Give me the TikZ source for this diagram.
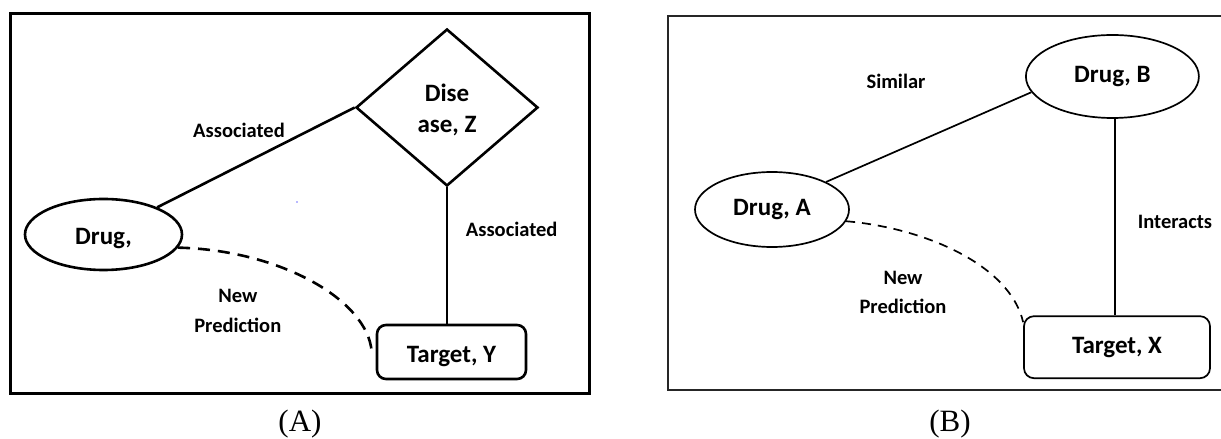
\documentclass[tikz,border=0pt]{standalone}
\usepackage{fontspec}
\newfontfamily\diagfont{Carlito}
\newfontfamily\capfont{Liberation Serif}
\usetikzlibrary{shapes.geometric}

\begin{document}
\begin{tikzpicture}[x=1bp,y=-1bp,
  nodetext/.style={font=\diagfont\bfseries\fontsize{25bp}{31.3bp}\selectfont, inner sep=0pt},
  edgelabel/.style={font=\diagfont\bfseries\fontsize{20.5bp}{25bp}\selectfont, inner sep=0pt, anchor=base},
  caption/.style={font=\capfont\fontsize{31bp}{36bp}\selectfont, inner sep=0pt, anchor=base},
  heavy/.style={line width=2.6bp, black},
  light/.style={line width=1.7bp, black},
  textA/.style={text height=26bp, text depth=5bp},
  textB/.style={text height=17.5bp, text depth=5bp},
  dashA/.style={dash pattern=on 12bp off 8bp},
  dashB/.style={dash pattern=on 9bp off 7bp},
]
\useasboundingbox[fill=white] (0,0) rectangle (1221,439);

% ---------------- Panel (A) ----------------
\draw[line width=3bp] (10.5,14) rectangle (589.5,393.5);

\node[ellipse, draw, heavy, nodetext, textA, minimum width=157bp, minimum height=71bp]
  (drug) at (103.5,234.5) {Drug,};
\node[diamond, draw, heavy, nodetext, align=center, minimum width=182bp, minimum height=157bp]
  (dis) at (447,107.5) {\rule{0pt}{23bp}Dise\\ase, Z};
\node[rectangle, rounded corners=9bp, draw, heavy, nodetext, textA, minimum width=149bp, minimum height=54bp]
  (tgtY) at (451.5,352) {Target, Y};

\draw[heavy] (drug) -- (dis.west);
\draw[heavy] (dis.south) -- (dis.south |- tgtY.north);
\draw[heavy, dashA] (drug.-10) .. controls (280,250) and (368,300) .. ([xshift=-4bp]tgtY.west);

\node[edgelabel] (lab1) at (239,138) {Associated};
\node[edgelabel] (lab2) at (511.7,236.7) {Associated};
\node[edgelabel] (lab3) at (237.8,303) {New};
\node[edgelabel] (lab4) at (237.8,333) {Prediction};

\fill[blue!55] (297,202) circle (0.9bp);

\node[caption] (capA) at (300,432) {(A)};

% ---------------- Panel (B) ----------------
\draw[line width=2bp, black!85] (1222,16) -- (668,16) -- (668,390.5) -- (1222,390.5);

\node[ellipse, draw, light, nodetext, textB, minimum width=154bp, minimum height=75bp]
  (drugA) at (772,209.5) {Drug, A};
\node[ellipse, draw, light, nodetext, textB, minimum width=173bp, minimum height=83bp]
  (drugB) at (1112.4,76.5) {Drug, B};
\node[rectangle, rounded corners=10bp, draw, light, nodetext, textB, minimum width=186bp, minimum height=62bp]
  (tgtX) at (1117,347.2) {Target, X};

\draw[light] (drugA.27) -- (drugB.191);
\draw[light] ([xshift=2.6bp]drugB.south) -- ([xshift=2.6bp]drugB.south |- tgtX.north);
\draw[light, dashB] (drugA.-9) .. controls (925,228) and (1010,265) .. ([yshift=25bp]tgtX.west);

\node[edgelabel] (lab5) at (896,88.3) {Similar};
\node[edgelabel] (lab6) at (1175,228.3) {Interacts};
\node[edgelabel] (lab7) at (903,285) {New};
\node[edgelabel] (lab8) at (903,314) {Prediction};

\node[caption] (capB) at (950,432) {(B)};
\end{tikzpicture}
\end{document}
